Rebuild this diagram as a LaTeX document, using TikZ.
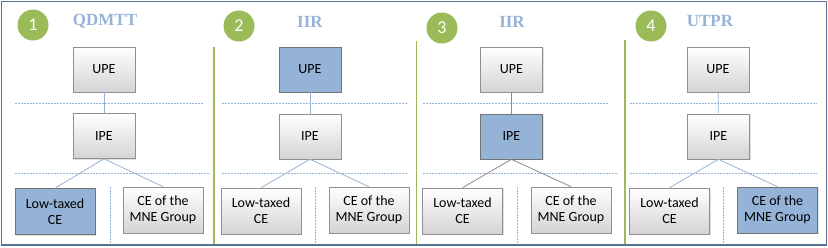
\documentclass[tikz,border=0pt]{standalone}
\usepackage{fontspec}
\setmainfont{Carlito}
\newfontfamily\titlefont{Liberation Serif}
\usetikzlibrary{shadows}
\definecolor{rulebl}{HTML}{95B3D7}
\definecolor{entgray}{HTML}{909090}
\definecolor{numgreen}{HTML}{9BBB59}
\definecolor{frameb}{HTML}{5B7392}

\begin{document}
\begin{tikzpicture}[x=1pt,y=-1pt,
      ent/.style={rectangle, draw=entgray, line width=0.6pt,
        top color=white, bottom color=black!17,
        drop shadow={shadow xshift=1.2pt, shadow yshift=-1.2pt, opacity=0.25},
        minimum width=62pt, minimum height=45pt, inner sep=1pt,
        align=center, font=\fontsize{14}{16}\selectfont},
      wide/.style={ent, minimum width=80pt, minimum height=46pt},
      hit/.style={fill=rulebl, top color=rulebl, bottom color=rulebl, draw=black!55},
      num/.style={circle, fill=numgreen, minimum size=31pt, inner sep=0pt,
        text=white, font=\fontsize{18}{18}\selectfont},
      rule/.style={text=rulebl, font=\titlefont\bfseries\fontsize{17}{17}\selectfont},
      sep/.style={draw=rulebl, line width=0.8pt, dash pattern=on 1.6pt off 1.4pt},
      divider/.style={draw=numgreen, line width=1.5pt},
      link/.style={draw=rulebl, line width=0.8pt},
      glink/.style={draw=black!45, line width=0.8pt}
    ]
      \useasboundingbox (0,0) rectangle (828,247);
      \draw[frameb, line width=0.8pt] (1,1) rectangle (826.5,245.5);
      \draw[frameb, line width=1.6pt] (1,245.2) -- (826.5,245.2);

      % panel 1
      \node[num] (n1) at (33,25) {1};
      \node[rule] (r1) at (105,21) {QDMTT};
      \draw[sep] (15,103) -- (203,103);
      \draw[sep] (15,173.5) -- (210,173.5);
      \draw[sep] (110,187) -- (110,243);
      \node[ent] (upe1) at (104,69.5) {UPE};
      \node[ent] (ipe1) at (104,136) {IPE};
      \node[wide, hit] (low1) at (55,211.5) {Low-taxed\\CE};
      \node[wide] (ce1) at (163,210) {CE of the\\MNE Group};
      \draw[link] (upe1) -- (ipe1);
      \draw[link] (ipe1.south) -- (low1.north); \draw[link] (ipe1.south) -- (ce1.north);

      % panel 2
      \node[num] (n2) at (239,26) {2};
      \node[rule] (r2) at (310,22) {IIR};
      \draw[sep] (222,103) -- (408,103);
      \draw[sep] (222,173.5) -- (408,173.5);
      \draw[sep] (315,187) -- (315,243);
      \node[ent, hit] (upe2) at (310,69.5) {UPE};
      \node[ent] (ipe2) at (310,136.5) {IPE};
      \node[wide] (low2) at (261,211) {Low-taxed\\CE};
      \node[wide] (ce2) at (369,210) {CE of the\\MNE Group};
      \draw[link] (upe2) -- (ipe2);
      \draw[link] (ipe2.south) -- (low2.north); \draw[link] (ipe2.south) -- (ce2.north);

      % panel 3
      \node[num] (n3) at (442,28) {3};
      \node[rule] (r3) at (512,22) {IIR};
      \draw[sep] (423,103) -- (609,103);
      \draw[sep] (423,173.5) -- (618,173.5);
      \draw[sep] (517,187) -- (517,243);
      \node[ent] (upe3) at (511.5,69.5) {UPE};
      \node[ent, hit] (ipe3) at (511.5,136.5) {IPE};
      \node[wide] (low3) at (462.5,211) {Low-taxed\\CE};
      \node[wide] (ce3) at (571,210) {CE of the\\MNE Group};
      \draw[glink] (upe3) -- (ipe3);
      \draw[glink] (ipe3.south) -- (low3.north); \draw[glink] (ipe3.south) -- (ce3.north);

      % panel 4
      \node[num] (n4) at (651,26) {4};
      \node[rule] (r4) at (710,21) {UTPR};
      \draw[sep] (630,103) -- (817,103);
      \draw[sep] (630,173.5) -- (817,173.5);
      \draw[sep] (723,187) -- (723,243);
      \node[ent] (upe4) at (718,69.5) {UPE};
      \node[ent] (ipe4) at (718.5,136.5) {IPE};
      \node[wide] (low4) at (669.5,211) {Low-taxed\\CE};
      \node[wide, hit] (ce4) at (777.5,210) {CE of the\\MNE Group};
      \draw[link] (upe4) -- (ipe4);
      \draw[link] (ipe4.south) -- (low4.north); \draw[link] (ipe4.south) -- (ce4.north);

      % separators between the panels
      \draw[divider] (214,47) -- (214,244);
      \draw[divider] (416.5,41) -- (416.5,244);
      \draw[divider] (625,40) -- (625,244);
    \end{tikzpicture}
\end{document}
